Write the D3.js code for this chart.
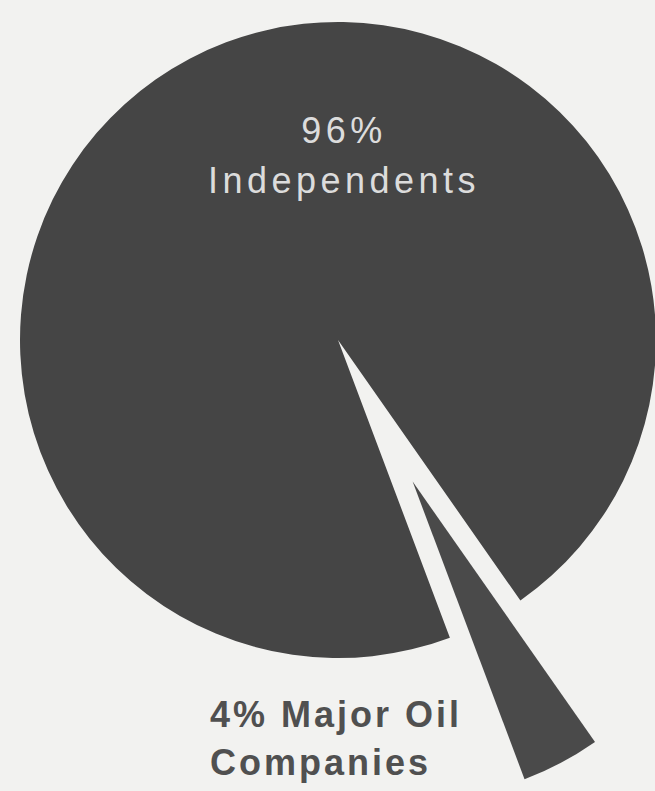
<!DOCTYPE html>
<meta charset="utf-8">
<style>
body { margin: 0; background: #f2f2f0; }
.pie-label { font-family: "Liberation Sans", Arial, sans-serif; }
</style>
<svg width="655" height="791"></svg>
<script src="https://d3js.org/d3.v7.min.js"></script>
<script>

// DATA
var categories = ["Major Oil Companies", "Independents"];
var shares = [4, 96];
var labelLines = [["4% Major Oil", "Companies"], ["96%", "Independents"]];

var svg = d3.select("svg"),
    width = +svg.attr("width"),
    height = +svg.attr("height");

var cx = 338, cy = 340, radius = 318;
var pulled = "Major Oil Companies";   // the slice drawn out of the pie
var pullDist = 160;

svg.append("rect")
    .attr("width", width)
    .attr("height", height)
    .style("fill", "#f2f2f0");

var data = categories.map(function(c, i) { return {name: c, value: shares[i], lines: labelLines[i]}; });

var a0 = 145 * Math.PI / 180;
var pie = d3.pie()
    .sort(null)
    .value(function(d) { return d.value; })
    .startAngle(a0)
    .endAngle(a0 + 2 * Math.PI);

var arc = d3.arc()
    .innerRadius(0)
    .outerRadius(radius);

var arcs = pie(data);

var g = svg.append("g")
    .attr("transform", "translate(" + cx + "," + cy + ")");

g.selectAll("path")
    .data(arcs)
  .enter().append("path")
    .attr("d", arc)
    .attr("transform", function(d) {
      if (d.data.name != pulled) return null;
      var mid = (d.startAngle + d.endAngle) / 2;
      return "translate(" + (pullDist * Math.sin(mid)) + "," + (-pullDist * Math.cos(mid)) + ")";
    })
    .style("fill", function(d) { return d.data.name == pulled ? "#4a4a4a" : "#454545"; });

// label inside the big slice
var big = arcs[1];
var inner = svg.append("text")
    .attr("class", "pie-label")
    .attr("text-anchor", "middle")
    .style("font-size", "36px")
    .style("letter-spacing", "4.5px")
    .style("fill", "#dcdcdc");
inner.selectAll("tspan")
    .data(big.data.lines)
  .enter().append("tspan")
    .attr("x", 344)
    .attr("y", function(d, i) { return 143 + i * 50; })
    .text(function(d) { return d; });

// label of the small slice, under the pie
var small = arcs[0];
var outer = svg.append("text")
    .attr("class", "pie-label")
    .style("font-size", "36px")
    .style("font-weight", "bold")
    .style("letter-spacing", "3px")
    .style("fill", "#505050");
outer.selectAll("tspan")
    .data(small.data.lines)
  .enter().append("tspan")
    .attr("x", 210)
    .attr("y", function(d, i) { return 727 + i * 48; })
    .text(function(d) { return d; });

</script>
